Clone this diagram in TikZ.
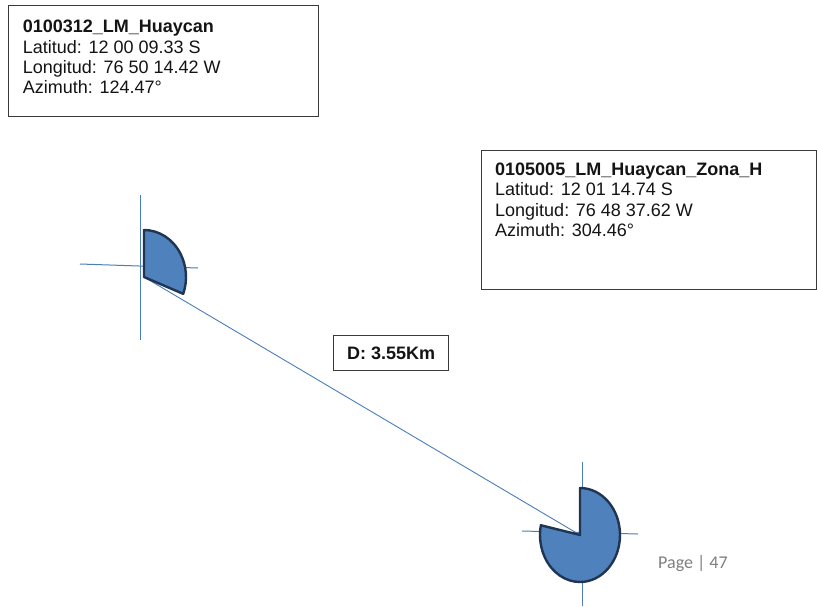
\documentclass[tikz,border=0pt]{standalone}
\usepackage{fontspec}
\setmainfont{Liberation Sans}
\newfontfamily\pagefont{Carlito}
\definecolor{secfill}{HTML}{4F81BD}
\definecolor{secedge}{HTML}{1F3552}
\definecolor{axis}{HTML}{4A7EBB}
\definecolor{boxedge}{HTML}{3A3A3A}
\definecolor{pagegray}{HTML}{7F7F7F}
\begin{document}
\begin{tikzpicture}[x=1pt,y=-1pt,
  infobox/.style={draw=boxedge, line width=1.1pt, fill=white, rectangle, inner sep=0pt, anchor=north west},
  txt/.style={inner sep=0pt, anchor=base west, font=\fontsize{18}{20}\selectfont, text=black!92},
  axisline/.style={draw=axis, line width=1pt},
  sector/.style={fill=secfill, draw=secedge, line width=2.4pt, line join=round},
  link/.style={draw=axis, line width=0.9pt}]
\path[use as bounding box, fill=white] (0,0) rectangle (817,606);

% info box 1
\node[infobox, minimum width=310pt, minimum height=111pt] (box1) at (8,5) {};
\node[txt] (b1a) at (22.7,32) {\bfseries 0100312\_LM\_Huaycan};
\node[txt] (b1b) at (22.7,53) {Latitud: 12 00 09.33 S};
\node[txt] (b1c) at (22.7,73.5) {Longitud: 76 50 14.42 W};
\node[txt] (b1d) at (22.7,93.5) {Azimuth: 124.47°};

% info box 2
\node[infobox, minimum width=335pt, minimum height=139pt] (box2) at (481,150) {};
\node[txt] (b2a) at (495,175) {\bfseries 0105005\_LM\_Huaycan\_Zona\_H};
\node[txt] (b2b) at (495,195.5) {Latitud: 12 01 14.74 S};
\node[txt] (b2c) at (495,216) {Longitud: 76 48 37.62 W};
\node[txt] (b2d) at (495,236.5) {Azimuth: 304.46°};

% crosshairs
\coordinate (v1t) at (140,195); \coordinate (v1b) at (140,340);
\coordinate (h1l) at (80,264);  \coordinate (h1r) at (198,268);
\coordinate (v2t) at (582,462); \coordinate (v2b) at (582,606);
\coordinate (h2l) at (522,531); \coordinate (h2r) at (638,534);
\draw[axisline] (v1t) -- (v1b);
\draw[axisline] (h1l) -- (h1r);
\draw[axisline] (v2t) -- (v2b);
\draw[axisline] (h2l) -- (h2r);

% site apexes and link
\coordinate (s1) at (144,277);
\coordinate (s2) at (580,535);
\draw[link] (s1) -- (s2);

% sectors
\draw[sector] (s1) -- ++(0,-47) arc[start angle=-90, end angle=21, x radius=42, y radius=47] -- cycle;
\draw[sector] (s2) -- ++(0,-47) arc[start angle=-90, end angle=192, x radius=40, y radius=47] -- cycle;

% distance label
\node[infobox, minimum width=115pt, minimum height=35pt] (dbox) at (333,335) {};
\node[inner sep=0pt, font=\fontsize{18}{20}\selectfont\bfseries, text=black!92] (dtxt) at (dbox.center) {D: 3.55Km};

% page number
\node[inner sep=0pt, anchor=base west, font=\pagefont\fontsize{18}{20}\selectfont, text=pagegray] (page) at (658,568) {Page | 47};
\end{tikzpicture}
\end{document}
